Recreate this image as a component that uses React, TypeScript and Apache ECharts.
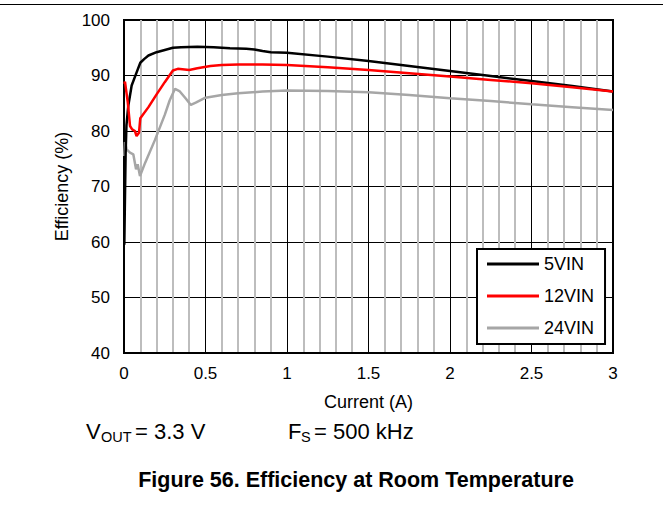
import React, { useEffect, useRef } from "react";
import * as echarts from "echarts";

const seriesNames = ["5VIN", "12VIN", "24VIN"];

const current5 = [0.002, 0.005, 0.01, 0.015, 0.026, 0.047, 0.078, 0.1, 0.125, 0.15, 0.2, 0.25, 0.3, 0.35, 0.45, 0.55, 0.65, 0.75, 0.8, 0.85, 0.9, 1.0, 1.25, 1.5, 1.75, 2.0, 2.25, 2.5, 2.75, 3.0];
const eff5 = [59.5, 66, 76, 81, 84.5, 88.2, 90.6, 92.3, 93.0, 93.6, 94.2, 94.6, 95.0, 95.1, 95.2, 95.1, 94.9, 94.8, 94.7, 94.4, 94.2, 94.1, 93.4, 92.6, 91.7, 90.8, 89.9, 89.0, 88.1, 87.1];

const current12 = [0.002, 0.006, 0.023, 0.037, 0.05, 0.067, 0.077, 0.092, 0.1, 0.15, 0.2, 0.25, 0.3, 0.33, 0.4, 0.45, 0.53, 0.6, 0.7, 0.85, 1.0, 1.25, 1.5, 1.75, 2.0, 2.25, 2.5, 2.75, 3.0];
const eff12 = [88.5, 88.9, 85.2, 80.9, 80.3, 80.0, 79.1, 79.7, 82.3, 84.3, 86.6, 88.8, 90.9, 91.2, 91.0, 91.3, 91.7, 91.9, 92.0, 92.0, 91.9, 91.5, 91.0, 90.4, 89.8, 89.2, 88.6, 87.9, 87.1];

const current24 = [0.002, 0.006, 0.016, 0.037, 0.057, 0.074, 0.084, 0.098, 0.13, 0.19, 0.25, 0.28, 0.313, 0.34, 0.38, 0.41, 0.44, 0.5, 0.6, 0.7, 0.85, 1.0, 1.25, 1.5, 1.75, 2.0, 2.25, 2.5, 2.75, 3.0];
const eff24 = [75.5, 78.0, 76.7, 76.1, 75.8, 73.1, 74.0, 71.9, 74.3, 78.4, 82.9, 85.5, 87.6, 87.2, 85.8, 84.7, 85.1, 86.0, 86.5, 86.8, 87.1, 87.3, 87.2, 87.0, 86.5, 85.9, 85.4, 84.8, 84.3, 83.8];

const xTicks = { min: 0, max: 3, interval: 0.5 };
const yTicks = { min: 40, max: 100, interval: 10 };

const FONT = "'Liberation Sans', Arial, Helvetica, sans-serif";

function pairs(xs: number[], ys: number[]) {
  return xs.map((x, i) => [x, ys[i]]);
}

export default function App() {
  const ref = useRef<HTMLDivElement>(null);
  useEffect(() => {
    if (!ref.current) return;
    const chart = echarts.init(ref.current, null, { renderer: "svg" });
    const txt = (text: string, x: number, y: number, size: number, extra: any = {}) => ({
      type: "text",
      x,
      y,
      style: {
        text,
        fontSize: size,
        fontFamily: FONT,
        fill: "#000",
        align: "left",
        verticalAlign: "middle",
        ...extra,
      },
    });
    chart.setOption({
      animation: false,
      backgroundColor: "#fff",
      grid: {
        left: 124,
        right: 50,
        top: 20,
        bottom: 176,
        show: true,
        borderColor: "#000",
        borderWidth: 2,
        backgroundColor: "transparent",
      },
      legend: {
        data: seriesNames,
        orient: "vertical",
        left: 477,
        top: 249,
        padding: [6, 11, 7, 10],
        itemGap: 14,
        itemWidth: 52,
        itemHeight: 3,
        icon: "rect",
        backgroundColor: "#fff",
        borderColor: "#000",
        borderWidth: 2,
        borderRadius: 0,
        textStyle: { fontSize: 18, fontFamily: FONT, color: "#000", lineHeight: 18 },
      },
      xAxis: {
        type: "value",
        min: xTicks.min,
        max: xTicks.max,
        interval: xTicks.interval,
        name: "Current (A)",
        nameLocation: "middle",
        nameGap: 40,
        nameTextStyle: { fontSize: 18, fontFamily: FONT, color: "#000" },
        axisLine: { show: true, lineStyle: { color: "#000", width: 2 } },
        axisTick: { show: false },
        minorTick: { show: false, splitNumber: 5 },
        axisLabel: { fontSize: 17, fontFamily: FONT, color: "#000", margin: 12 },
        splitLine: { show: true, lineStyle: { color: "#000", width: 1 } },
        minorSplitLine: { show: true, lineStyle: { color: "#bdbdbd", width: 2 } },
      },
      yAxis: {
        type: "value",
        min: yTicks.min,
        max: yTicks.max,
        interval: yTicks.interval,
        name: "Efficiency (%)",
        nameLocation: "middle",
        nameGap: 50,
        nameTextStyle: { fontSize: 18, fontFamily: FONT, color: "#000" },
        axisLine: { show: true, lineStyle: { color: "#000", width: 2 } },
        axisTick: { show: false },
        axisLabel: { fontSize: 17, fontFamily: FONT, color: "#000", margin: 14 },
        splitLine: { show: true, lineStyle: { color: "#000", width: 1 } },
      },
      series: [
        {
          name: seriesNames[0],
          type: "line",
          data: pairs(current5, eff5),
          symbol: "none",
          lineStyle: { color: "#000", width: 2.5 },
          itemStyle: { color: "#000" },
          z: 3,
        },
        {
          name: seriesNames[1],
          type: "line",
          data: pairs(current12, eff12),
          symbol: "none",
          lineStyle: { color: "#ff0000", width: 2.5 },
          itemStyle: { color: "#ff0000" },
          z: 4,
        },
        {
          name: seriesNames[2],
          type: "line",
          data: pairs(current24, eff24),
          symbol: "none",
          lineStyle: { color: "#a6a6a6", width: 2.5 },
          itemStyle: { color: "#a6a6a6" },
          z: 2,
        },
      ],
      graphic: [
        { type: "line", shape: { x1: 0, y1: 4.5, x2: 663, y2: 4.5 }, style: { stroke: "#000", lineWidth: 1 } },
        txt("V", 86, 431, 22),
        txt("OUT", 101, 437, 14.5),
        txt("= 3.3 V", 135, 431, 22),
        txt("F", 288, 431, 22),
        txt("S", 301, 437, 14.5),
        txt("= 500 kHz", 314, 431, 22),
        txt("Figure 56. Efficiency at Room Temperature", 356, 479.6, 21.5, { fontWeight: "bold", align: "center" }),
      ],
    });
    return () => chart.dispose();
  }, []);
  return (
    <div
      ref={ref}
      style={{ position: "fixed", left: 0, top: 0, width: 663, height: 529, background: "#fff" }}
    />
  );
}
